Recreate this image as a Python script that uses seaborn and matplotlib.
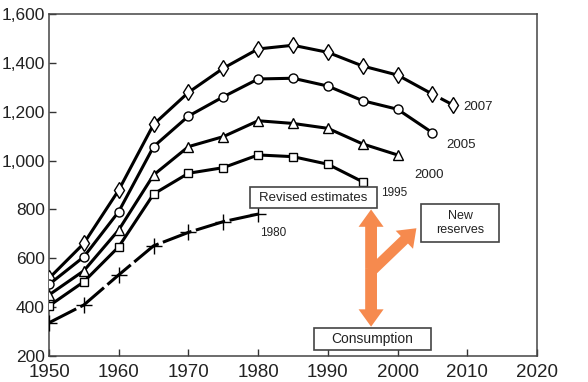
"""Oil reserve estimates by vintage year, with revision/new reserves/consumption arrow."""

import numpy as np
import pandas as pd
import matplotlib
matplotlib.use("Agg")
import matplotlib.pyplot as plt
from matplotlib.patches import FancyArrowPatch, Rectangle
import seaborn as sns

# ---- data ------------------------------------------------------------------
years = [1950, 1955, 1960, 1965, 1970, 1975, 1980, 1985, 1990, 1995, 2000, 2005]
est_2007 = [518, 661, 879, 1148, 1279, 1378, 1457, 1472, 1443, 1387, 1350, 1272]
est_2007_last_year = 2008
est_2007_last = 1227
est_2005 = [493, 606, 791, 1057, 1182, 1261, 1334, 1337, 1305, 1245, 1210, 1114]
est_2000 = [450, 549, 716, 941, 1057, 1098, 1163, 1152, 1132, 1068, 1023]
est_1995 = [405, 504, 647, 863, 948, 971, 1023, 1016, 985, 913]
est_1980 = [336, 409, 532, 651, 706, 750, 781]

x_ticks = [1950, 1960, 1970, 1980, 1990, 2000, 2010, 2020]
y_ticks = [200, 400, 600, 800, 1000, 1200, 1400, 1600]

sns.set_theme(style="white")
plt.rcParams["font.family"] = ["Liberation Sans", "DejaVu Sans"]

fig = plt.figure(figsize=(5.88, 3.82), dpi=100)
ax = fig.add_axes([49 / 588, 26 / 382, 488 / 588, 342 / 382])

line_kw = dict(color="black", linewidth=2.2, markerfacecolor="white",
               markeredgecolor="black", markeredgewidth=1.0)

series = [
    (est_2007, "d", 8),
    (est_2005, "o", 6.5),
    (est_2000, "^", 6.5),
    (est_1995, "s", 6),
]
for vals, mk, ms in series:
    sns.lineplot(x=years[:len(vals)], y=vals, ax=ax, marker=mk, markersize=ms,
                 zorder=3, **line_kw)

# 1980 estimate: dashed with plus markers
sns.lineplot(x=years[:len(est_1980)], y=est_1980, ax=ax, marker="+", markersize=11,
             linestyle=(0, (10, 1.5)), zorder=3, **line_kw)

# 2007: short detached segment to the last point
ax.plot([years[-1], est_2007_last_year], [est_2007[-1], est_2007_last],
        color="black", linewidth=2.2, linestyle=(25, (8, 20)), zorder=2)
ax.plot([est_2007_last_year], [est_2007_last], marker="d", markersize=8,
        color="black", markerfacecolor="white", markeredgewidth=1.0,
        linestyle="none", zorder=3)

# vintage labels
txt = "#222222"
ax.text(2009.4, 1219, "2007", fontsize=9.5, color=txt, va="center")
ax.text(2007.0, 1064, "2005", fontsize=9.5, color=txt, va="center")
ax.text(2002.4, 941, "2000", fontsize=9.5, color=txt, va="center")
ax.text(1997.7, 868, "1995", fontsize=8.5, color=txt, va="center")
ax.text(1980.3, 705, "1980", fontsize=8.5, color=txt, va="center")

# boxes
boxes = [
    ((1978.9, 804.6), 18.1, 85.9, "Revised estimates", 9.5),
    ((2003.3, 665.4), 11.3, 156.8, "New\nreserves", 9),
    ((1988.0, 224.6), 16.8, 88.8, "Consumption", 10),
]
for (bx, by), w, h, label, fs in boxes:
    ax.add_patch(Rectangle((bx, by), w, h, facecolor="white", edgecolor="#444444",
                           linewidth=1.2, zorder=4))
    ax.text(bx + w / 2, by + h / 2, label, ha="center", va="center",
            fontsize=fs, color=txt, zorder=5, linespacing=1.2)

# orange arrows
orange = "#F68A4E"
style = "simple,head_length=1.25,head_width=1.8,tail_width=0.85"
for y_end in (800, 320):
    ax.add_patch(FancyArrowPatch((1996.2, 560), (1996.2, y_end), arrowstyle=style,
                                 mutation_scale=10, color=orange, linewidth=0,
                                 shrinkA=0, shrinkB=0, zorder=4))
ax.add_patch(FancyArrowPatch((1996.2, 545), (2002.7, 723),
                             arrowstyle="simple,head_length=1.2,head_width=1.8,tail_width=0.75",
                             mutation_scale=10, color=orange, linewidth=0,
                             shrinkA=0, shrinkB=0, zorder=4))

ax.set_xlim(1950, 2020)
ax.set_ylim(200, 1600)
ax.set_xticks(x_ticks)
ax.set_yticks(y_ticks)
ax.set_yticklabels([f"{v:,}" for v in y_ticks])
ax.tick_params(direction="in", length=5, width=1, color="#333333",
               labelcolor="#222222", bottom=True, left=True)
ax.tick_params(axis="x", labelsize=13.5, pad=6)
ax.tick_params(axis="y", labelsize=12.5, pad=3)
for sp in ax.spines.values():
    sp.set_visible(True)
    sp.set_color("#444444")
    sp.set_linewidth(1.1)
ax.set_xlabel("")
ax.set_ylabel("")
ax.grid(False)

fig.savefig("out.png", dpi=100)
